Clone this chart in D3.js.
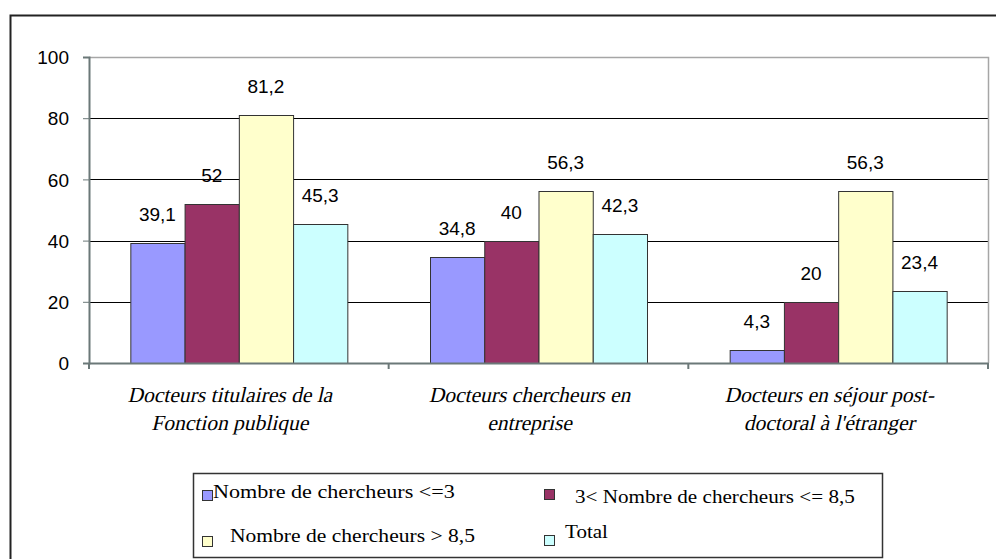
<!DOCTYPE html>
<html>
<head>
<meta charset="utf-8">
<title>Docteurs - nombre de chercheurs</title>
<script src="https://cdn.jsdelivr.net/npm/d3@7"></script>
<style>
  body { margin: 0; background: #fff; }
  svg { display: block; }
  .num { font-family: "Liberation Sans", Arial, sans-serif; font-size: 19px; fill: #000; }
</style>
</head>
<body>
<script>
// categories (each label split on two lines)
var categories = [
  ["Docteurs titulaires de la", "Fonction publique"],
  ["Docteurs chercheurs en", "entreprise"],
  ["Docteurs en séjour post-", "doctoral à l'étranger"]
];
var seriesNames = [
  "Nombre de chercheurs <=3",
  "3< Nombre de chercheurs <= 8,5",
  "Nombre de chercheurs > 8,5",
  "Total"
];
var seriesColors = ["#9999ff", "#993366", "#ffffcc", "#ccffff"];
// values[series][category]
var values = [
  [39.1, 34.8, 4.3],
  [52, 40, 20],
  [81.2, 56.3, 56.3],
  [45.3, 42.3, 23.4]
];
var yTicks = [0, 20, 40, 60, 80, 100];

// pick a Times-like font that is really installed
var ctx = document.createElement("canvas").getContext("2d");
function hasFont(name) {
  var s = "Docteurs titulaires WWmmii 0123";
  ctx.font = "20px monospace";
  var a = ctx.measureText(s).width;
  ctx.font = "20px '" + name + "', monospace";
  var b = ctx.measureText(s).width;
  return Math.abs(a - b) > 0.5;
}
var serifFont = ["Liberation Serif", "Times New Roman", "Tinos", "Times", "Nimbus Roman", "DejaVu Serif"]
  .filter(hasFont)[0] || "serif";
var serifFamily = "'" + serifFont + "', serif";

var w = 996, h = 559;
var plot = { left: 89, right: 988, top: 57, bottom: 363 };

var svg = d3.select("body").append("svg")
  .attr("width", w)
  .attr("height", h);

// outer frame (runs off the right / bottom edge)
svg.append("rect")
  .attr("x", 10.5).attr("y", 15.5)
  .attr("width", w + 20).attr("height", h + 20)
  .attr("fill", "none").attr("stroke", "#222").attr("stroke-width", 2);

var x0 = d3.scaleBand()
  .domain(d3.range(categories.length))
  .range([plot.left, plot.right]);

var groupWidth = 217;
var x1 = d3.scaleBand()
  .domain(d3.range(seriesNames.length))
  .range([0, groupWidth]);

var y = d3.scaleLinear()
  .domain([0, 100])
  .range([plot.bottom, plot.top]);

// gridlines
svg.append("g")
  .selectAll("line")
  .data(yTicks.filter(function(d) { return d > 0 && d < 100; }))
  .enter().append("line")
  .attr("x1", plot.left).attr("x2", plot.right)
  .attr("y1", function(d) { return Math.round(y(d)) + 0.5; })
  .attr("y2", function(d) { return Math.round(y(d)) + 0.5; })
  .attr("stroke", "#000").attr("stroke-width", 1);

// plot area border top / right (grey)
svg.append("path")
  .attr("d", "M" + plot.left + "," + (plot.top + 0.5) + "H" + (plot.right + 0.5) + "V" + plot.bottom)
  .attr("fill", "none").attr("stroke", "#a6a6a6").attr("stroke-width", 1.5);

// bars
var groups = svg.append("g")
  .selectAll("g")
  .data(categories)
  .enter().append("g")
  .attr("transform", function(d, i) {
    return "translate(" + (x0(i) + (x0.bandwidth() - groupWidth) / 2) + ",0)";
  });

groups.selectAll("rect")
  .data(function(d, ci) {
    return values.map(function(s, si) { return { s: si, v: s[ci] }; });
  })
  .enter().append("rect")
  .attr("x", function(d) { return x1(d.s) + 0.5; })
  .attr("y", function(d) { return Math.round(y(d.v)) + 0.5; })
  .attr("width", x1.bandwidth())
  .attr("height", function(d) { return plot.bottom - Math.round(y(d.v)); })
  .attr("fill", function(d) { return seriesColors[d.s]; })
  .attr("stroke", "#333").attr("stroke-width", 1);

groups.selectAll("text")
  .data(function(d, ci) {
    return values.map(function(s, si) { return { s: si, v: s[ci] }; });
  })
  .enter().append("text")
  .attr("class", "num")
  .attr("text-anchor", "middle")
  .attr("x", function(d) { return x1(d.s) + x1.bandwidth() / 2; })
  .attr("y", function(d) { return y(d.v) - 22; })
  .text(function(d) { return String(d.v).replace(".", ","); });

// y axis
var yAxis = d3.axisLeft(y).tickValues(yTicks).tickSize(6).tickPadding(14);
var yg = svg.append("g")
  .attr("transform", "translate(" + plot.left + ",0)")
  .call(yAxis);
yg.select(".domain").attr("stroke", "#6b7878").attr("stroke-width", 2);
yg.selectAll(".tick line").attr("stroke", "#6b7878");
yg.selectAll(".tick text").attr("class", "num").attr("font-family", null).attr("font-size", null).attr("dy", "0.35em");

// x axis
var xAxis = d3.axisBottom(x0).tickValues([]).tickSizeOuter(0);
var xg = svg.append("g")
  .attr("transform", "translate(0," + plot.bottom + ")")
  .call(xAxis);
xg.select(".domain").attr("stroke", "#6b7878").attr("stroke-width", 2);
// boundary ticks between categories
xg.selectAll("line.bt")
  .data(d3.range(categories.length + 1))
  .enter().append("line")
  .attr("class", "bt")
  .attr("x1", function(i) { return i < categories.length ? x0(i) : plot.right; })
  .attr("x2", function(i) { return i < categories.length ? x0(i) : plot.right; })
  .attr("y1", 0).attr("y2", 6)
  .attr("stroke", "#6b7878").attr("stroke-width", 2);

// category labels (italic done by skew so it never switches family)
var catLabels = svg.append("g")
  .selectAll("g")
  .data(categories)
  .enter().append("g")
  .attr("transform", function(d, i) {
    return "translate(" + (x0(i) + x0.bandwidth() / 2 - 9) + ",402) skewX(-13)";
  });
catLabels.selectAll("text")
  .data(function(d) { return d; })
  .enter().append("text")
  .attr("font-family", serifFamily)
  .attr("font-size", 21.5)
  .attr("text-anchor", "middle")
  .attr("x", function(d, i) { return i * 28 * Math.tan(13 * Math.PI / 180); })
  .attr("y", function(d, i) { return i * 28; })
  .text(function(d) { return d; });

// legend
var legend = svg.append("g");
legend.append("rect")
  .attr("x", 193.5).attr("y", 473.5)
  .attr("width", 689).attr("height", 84)
  .attr("fill", "#fff").attr("stroke", "#333").attr("stroke-width", 1.5);

var legendPos = [
  { sx: 202, sy: 490, tx: 213, ty: 498, tw: 242, fs: 18.5 },
  { sx: 544, sy: 489, tx: 575, ty: 503, tw: 280, fs: 19.5 },
  { sx: 202, sy: 536, tx: 230, ty: 542, tw: 245, fs: 19.5 },
  { sx: 544, sy: 535, tx: 565, ty: 538, tw: 43, fs: 19.5 }
];
var items = legend.selectAll("g.item")
  .data(seriesNames)
  .enter().append("g").attr("class", "item");
items.append("rect")
  .attr("x", function(d, i) { return legendPos[i].sx + 0.5; })
  .attr("y", function(d, i) { return legendPos[i].sy + 0.5; })
  .attr("width", 10).attr("height", 10)
  .attr("fill", function(d, i) { return seriesColors[i]; })
  .attr("stroke", "#333").attr("stroke-width", 1);
items.append("text")
  .attr("font-family", serifFamily)
  .attr("font-size", function(d, i) { return legendPos[i].fs; })
  .text(function(d) { return d; })
  .attr("transform", function(d, i) {
    var p = legendPos[i];
    var sx = p.tw / this.getComputedTextLength();
    return "translate(" + p.tx + "," + p.ty + ") scale(" + sx + ",1)";
  });
</script>
</body>
</html>
